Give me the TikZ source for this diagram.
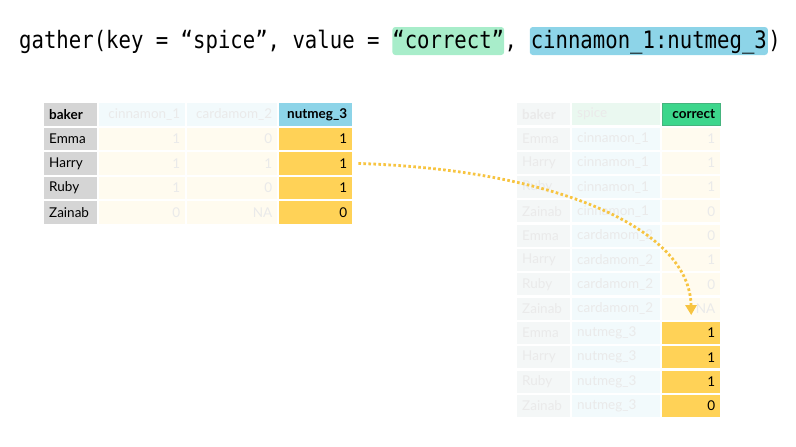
\documentclass[tikz,border=0pt]{standalone}
\usepackage{fontspec}
\usetikzlibrary{arrows.meta}
\newfontfamily\codefont[FakeStretch=0.86]{DejaVu Sans Mono}
\newfontfamily\tablefont{Lato}

\definecolor{namegray}{HTML}{D5D5D5}
\definecolor{keyblue}{HTML}{8DD4E8}
\definecolor{valorange}{HTML}{FFD257}
\definecolor{valgreen}{HTML}{3DD68C}
\definecolor{codegreen}{HTML}{A8EDCA}
\definecolor{fadeblue}{HTML}{F2FAFC}
\definecolor{fadeyellow}{HTML}{FFFBEF}
\definecolor{fadegray}{HTML}{F4F7F7}
\definecolor{fadegreen}{HTML}{EAF8F0}
\definecolor{fadetext}{HTML}{EAEAEA}
\definecolor{arrowgold}{HTML}{F7C441}

\tikzset{
  code/.style={font=\codefont\fontsize{24}{28}\selectfont, inner xsep=0pt, inner ysep=0pt,
    text height=21pt, text depth=7pt, anchor=base west},
  cell/.style={rectangle, anchor=north west, minimum height=#1, inner xsep=5pt, inner ysep=0pt,
    font=\tablefont\fontsize{13.5}{16}\selectfont},
  lcell/.style 2 args={cell=#2, text width=#1, align=left},
  rcell/.style 2 args={cell=#2, text width=#1, align=right},
  faded/.style={text=fadetext},
  arrowline/.style={arrowgold, line width=2.8pt, dash pattern=on 2.6pt off 2.4pt,
    -{Triangle[width=11pt,length=10pt]}}
}

\begin{document}
\begin{tikzpicture}[x=1pt,y=-1pt]
  \useasboundingbox (0,0) rectangle (796,447);
  % Call
  \node[code] (call) at (19,48) {gather(key = “spice”, value =};
  \node[code, fill=codegreen, rounded corners=3pt] (valname) at ([xshift=12.38pt]call.base east) {“correct”};
  \node[code] (comma) at (valname.base east) {,};
  \node[code, fill=keyblue, rounded corners=3pt, inner xsep=1pt] (cols) at ([xshift=12.38pt]comma.base east) {cinnamon\_1:nutmeg\_3};
  \node[code] (close) at (cols.base east) {)};
  % Wide table
  \node[lcell={43pt}{22.5pt}, fill=namegray, font=\tablefont\bfseries\fontsize{13.5}{16}\selectfont] (l-0-1) at (44,103) {baker};
  \node[rcell={76pt}{22.5pt}, fill=fadeblue, faded] (l-0-2) at (99,103) {cinnamon\_1};
  \node[rcell={80pt}{22.5pt}, fill=fadeblue, faded] (l-0-3) at (187,103) {cardamom\_2};
  \node[rcell={63pt}{22.5pt}, fill=keyblue, font=\tablefont\bfseries\fontsize{13.5}{16}\selectfont] (l-0-4) at (279,103) {nutmeg\_3};
  \foreach \i/\who/\a/\b/\c in {1/Emma/1/0/1, 2/Harry/1/1/1, 3/Ruby/1/0/1, 4/Zainab/0/NA/0} {
    \pgfmathsetmacro\y{103+24.5*\i}
    \node[lcell={43pt}{22.5pt}, fill=namegray] (l-\i-1) at (44,\y) {\who};
    \node[rcell={76pt}{22.5pt}, fill=fadeyellow, faded] (l-\i-2) at (99,\y) {\a};
    \node[rcell={80pt}{22.5pt}, fill=fadeyellow, faded] (l-\i-3) at (187,\y) {\b};
    \node[rcell={63pt}{22.5pt}, fill=valorange] (l-\i-4) at (279,\y) {\c};
  }
  % Long table
  \node[lcell={43pt}{22pt}, fill=fadegray, faded, font=\tablefont\bfseries\fontsize{13.5}{16}\selectfont] (r-0-1) at (517,103) {baker};
  \node[lcell={78pt}{22pt}, fill=fadegreen, faded] (r-0-2) at (572,103) {spice};
  \node[rcell={48pt}{22pt}, fill=valgreen, draw=valgreen!80!black!90, font=\tablefont\bfseries\fontsize{13.5}{16}\selectfont] (r-0-3) at (662,103) {correct};
  \foreach \i/\who/\key/\val in {1/Emma/cinnamon\_1/1, 2/Harry/cinnamon\_1/1, 3/Ruby/cinnamon\_1/1,
      4/Zainab/cinnamon\_1/0, 5/Emma/cardamom\_2/0, 6/Harry/cardamom\_2/1, 7/Ruby/cardamom\_2/0,
      8/Zainab/cardamom\_2/NA} {
    \pgfmathsetmacro\y{103+24.3*\i}
    \node[lcell={43pt}{22pt}, fill=fadegray, faded] (r-\i-1) at (517,\y) {\who};
    \node[lcell={78pt}{22pt}, fill=fadeblue, faded] (r-\i-2) at (572,\y) {\key};
    \node[rcell={48pt}{22pt}, fill=fadeyellow, faded] (r-\i-3) at (662,\y) {\val};
  }
  \foreach \i/\who/\val in {9/Emma/1, 10/Harry/1, 11/Ruby/1, 12/Zainab/0} {
    \pgfmathsetmacro\y{103+24.3*\i}
    \node[lcell={43pt}{22pt}, fill=fadegray, faded] (r-\i-1) at (517,\y) {\who};
    \node[lcell={78pt}{22pt}, fill=fadeblue, faded] (r-\i-2) at (572,\y) {nutmeg\_3};
    \node[rcell={48pt}{22pt}, fill=valorange] (r-\i-3) at (662,\y) {\val};
  }
  % Arrow
  \draw[arrowline] ([xshift=6pt]l-2-4.east) .. controls (560,170) and (690,230) .. ([yshift=-6.5pt]r-8-3.center);
\end{tikzpicture}
\end{document}
